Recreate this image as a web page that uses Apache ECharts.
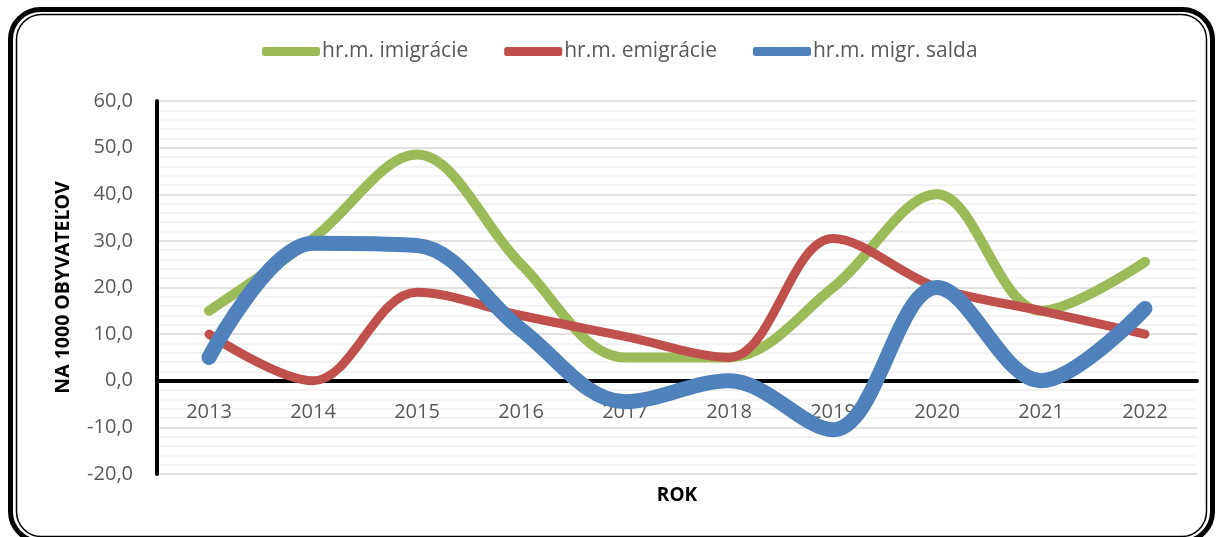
<!DOCTYPE html>
<html>
<head>
<meta charset="utf-8">
<script src="https://cdn.jsdelivr.net/npm/echarts@6/dist/echarts.min.js"></script>
<style>
  html, body { margin: 0; padding: 0; background: #ffffff; }
  #container { width: 1217px; height: 537px; }
</style>
</head>
<body>
<div id="container"></div>
<script>
var dom = document.getElementById('container');
var myChart = echarts.init(dom, null, { renderer: 'canvas' });

// roky
var years = ['2013', '2014', '2015', '2016', '2017', '2018', '2019', '2020', '2021', '2022'];
// hrubá miera imigrácie
var imigracie = [15.0, 30.5, 48.5, 25.0, 5.0, 5.0, 20.0, 40.0, 15.0, 25.5];
// hrubá miera emigrácie
var emigracie = [10.0, 0.0, 19.0, 14.0, 9.5, 5.0, 30.5, 20.0, 15.0, 10.0];
// hrubá miera migračného salda
var salda = [5.0, 29.5, 29.0, 11.0, -4.5, 0.0, -10.5, 20.0, 0.0, 15.5];

var seriesNames = ['hr.m. imigrácie', 'hr.m. emigrácie', 'hr.m. migr. salda'];
var colors = ['#9BBB59', '#C0504D', '#4F81BD'];
var lineWidths = [10, 9, 15];

var yMin = -20, yMax = 60, yStep = 10;

function makeSeries(i, data) {
    return {
        name: seriesNames[i],
        type: 'line',
        xAxisIndex: 0,
        yAxisIndex: 0,
        data: data,
        smooth: 0.35,
        symbol: 'none',
        itemStyle: { color: colors[i] },
        lineStyle: { width: lineWidths[i], color: colors[i], cap: 'round', join: 'round' }
    };
}

var option = {
    backgroundColor: '#ffffff',
    animation: false,
    textStyle: { fontFamily: 'Open Sans' },
    graphic: [
        {
            type: 'rect',
            shape: { x: 10.5, y: 9.5, width: 1202, height: 532, r: 30 },
            style: { fill: 'none', stroke: '#000', lineWidth: 5 },
            silent: true
        },
        {
            type: 'rect',
            shape: { x: 16.5, y: 14.5, width: 1190, height: 522, r: 25 },
            style: { fill: 'none', stroke: '#000', lineWidth: 1.5 },
            silent: true
        }
    ],
    legend: {
        top: 36,
        left: 257,
        itemWidth: 58,
        itemHeight: 9,
        itemGap: 36,
        icon: 'roundRect',
        textStyle: { fontSize: 21, color: '#595959', padding: [0, 0, 0, -3] },
        data: seriesNames
    },
    grid: [
        // hlavná plocha grafu
        { left: 157, right: 20, top: 101, bottom: 63, containLabel: false, outerBoundsMode: 'none' },
        // pomocná plocha: popisky rokov pri nulovej osi
        { left: 157, right: 20, top: 101, bottom: 156, containLabel: false, outerBoundsMode: 'none' }
    ],
    xAxis: [
        {
            type: 'category',
            gridIndex: 0,
            data: years,
            boundaryGap: true,
            name: 'ROK',
            nameLocation: 'middle',
            nameGap: 12,
            nameTextStyle: { fontSize: 19, fontWeight: 'bold', color: '#000', verticalAlign: 'top' },
            axisLine: { onZero: true, lineStyle: { color: '#000', width: 4 } },
            axisTick: { show: false },
            axisLabel: { show: false },
            splitLine: { show: false }
        },
        {
            type: 'category',
            gridIndex: 1,
            data: years,
            boundaryGap: true,
            axisLine: { show: false },
            axisTick: { show: false },
            axisLabel: { fontSize: 20, color: '#595959', margin: 21 },
            splitLine: { show: false }
        }
    ],
    yAxis: [
        {
            type: 'value',
            gridIndex: 0,
            min: yMin,
            max: yMax,
            interval: yStep,
            name: 'NA 1000 OBYVATEĽOV',
            nameLocation: 'middle',
            nameRotate: 90,
            nameGap: 84,
            nameTextStyle: { fontSize: 19.5, fontWeight: 'bold', color: '#000' },
            axisLine: { show: true, onZero: false, lineStyle: { color: '#000', width: 4 } },
            axisTick: { show: false },
            axisLabel: {
                fontSize: 20,
                color: '#595959',
                margin: 24,
                formatter: function (v) { return v.toFixed(1).replace('.', ','); }
            },
            splitLine: { lineStyle: { color: '#d9d9d9', width: 1.5 } },
            minorTick: { show: false, splitNumber: 5 },
            minorSplitLine: { show: true, lineStyle: { color: '#f0f0f0', width: 1.5 } }
        },
        {
            type: 'value',
            gridIndex: 1,
            min: 0,
            max: 1,
            show: false
        }
    ],
    series: [
        makeSeries(0, imigracie),
        makeSeries(1, emigracie),
        makeSeries(2, salda)
    ]
};

myChart.setOption(option);
window.addEventListener('resize', myChart.resize);
</script>
</body>
</html>
